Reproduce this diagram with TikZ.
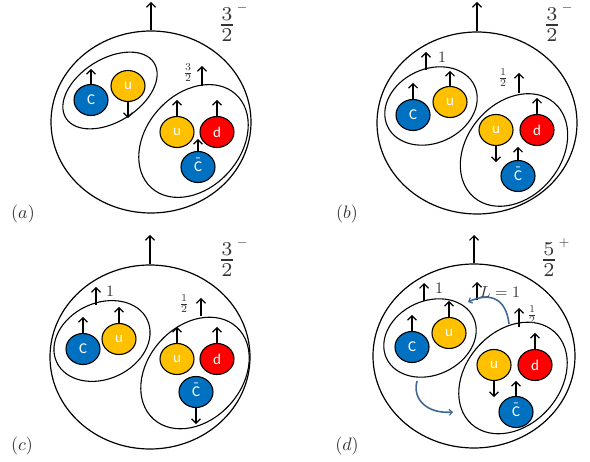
\documentclass[tikz,border=0pt]{standalone}
\usepackage{fontspec}
\newfontfamily\qfont{Carlito}
\usetikzlibrary{shapes.geometric,arrows.meta}
\definecolor{qblue}{RGB}{0,112,192}
\definecolor{qyellow}{RGB}{255,192,0}
\definecolor{qred}{RGB}{255,0,0}
\definecolor{arcblue}{RGB}{65,105,150}
\newcommand{\cbarq}{\ooalign{C\cr\hidewidth\raisebox{0.28em}{\char"00AF}\hidewidth\cr}}
\tikzset{
  outer/.style={draw,ellipse,line width=1.2pt,inner sep=0pt,minimum width=200pt,minimum height=182pt},
  pair/.style={draw,ellipse,line width=1.1pt,inner sep=0pt},
  quark/.style={draw,ellipse,line width=1.1pt,inner sep=0pt,minimum width=34pt,minimum height=31pt,text=white,font=\qfont\fontsize{15}{15}\selectfont},
  qb/.style={quark,fill=qblue},
  qy/.style={quark,fill=qyellow},
  qr/.style={quark,fill=qred},
  spin/.style={line width=1.1pt,-{Straight Barb[length=4.5pt,width=9pt,line width=1.1pt]}},
  lab/.style={text=black!80,scale=1.6,inner sep=0pt},
  plab/.style={text=black!80,scale=1.8,inner sep=0pt},
  bigfrac/.style={text=black!80,scale=2.8,inner sep=0pt},
  sgn/.style={text=black!80,scale=1.35,inner sep=0pt,anchor=base},
  smallfrac/.style={text=black!80,scale=1.5,inner sep=0pt},
  orbit/.style={arcblue,line width=1.6pt,-{Straight Barb[length=3pt,width=6pt,line width=1.2pt]}}
}
\begin{document}
\begin{tikzpicture}[x=1pt,y=-1pt]
\useasboundingbox (0,0) rectangle (590,462);
% ---------------- (a)
\node[outer] (A) at (151,122) {};
\coordinate (At) at (151,2);
\draw[spin] (A.north) -- (At);
\node[bigfrac] (Af) at (227,25) {$\frac{3}{2}$};
\node[sgn] (As) at (242,11.5) {$\smash{-}$};
\node[pair,minimum width=104pt,minimum height=63pt,rotate=32] (AL) at (110,90.5) {};
\node[qb] (Ac) at (91,100) {C};
\node[qy] (Au) at (128,86) {u};
\draw[spin] (Ac.north) -- ++(0,-15);
\draw[spin] (Au.south) -- ++(0,16);
\node[pair,minimum width=126pt,minimum height=94pt,rotate=48] (AR) at (193.5,141) {};
\coordinate (ARt) at (202,86);
\draw[spin] (ARt) -- ++(0,-20);
\node[smallfrac] (ARf) at (188,73) {$\frac{3}{2}$};
\node[qy] (Au2) at (177,132) {u};
\node[qr] (Ad) at (217,132) {d};
\node[qb] (Acb) at (198,167) {\cbarq};
\draw[spin] (Au2.north) -- ++(0,-16);
\draw[spin] (Ad.north) -- ++(0,-16);
\draw[spin] (Acb.north) -- ++(0,-12);
\node[plab] (Alab) at (23,214) {$(a)$};
% ---------------- (b)
\node[outer] (B) at (477,123) {};
\coordinate (Bt) at (477,2);
\draw[spin] (B.north) -- (Bt);
\node[bigfrac] (Bf) at (552,25) {$\frac{3}{2}$};
\node[sgn] (Bs) at (567,11.5) {$\smash{-}$};
\node[pair,minimum width=96pt,minimum height=74pt,rotate=25] (BL) at (431,106) {};
\coordinate (BLt) at (426,70);
\draw[spin] (BLt) -- ++(0,-18);
\node[lab] (BL1) at (442,57) {$1$};
\node[qb] (Bc) at (413,115) {C};
\node[qy] (Bu) at (450,102) {u};
\draw[spin] (Bc.north) -- ++(0,-16);
\draw[spin] (Bu.north) -- ++(0,-15);
\node[pair,minimum width=124pt,minimum height=94pt,rotate=50] (BR) at (514,150) {};
\coordinate (BRt) at (519,93);
\draw[spin] (BRt) -- ++(0,-20);
\node[smallfrac] (BRf) at (503,78) {$\frac{1}{2}$};
\node[qy] (Bu2) at (496,130) {u};
\node[qr] (Bd) at (537,130) {d};
\node[qb] (Bcb) at (518,176) {\cbarq};
\draw[spin] (Bu2.south) -- ++(0,16);
\draw[spin] (Bd.north) -- ++(0,-16);
\draw[spin] (Bcb.north) -- ++(0,-13);
\node[plab] (Blab) at (347,214) {$(b)$};
% ---------------- (c)
\node[outer,minimum height=184pt] (C) at (150,357) {};
\coordinate (Ct) at (150,235);
\draw[spin] (C.north) -- (Ct);
\node[bigfrac] (Cf) at (227,260) {$\frac{3}{2}$};
\node[sgn] (Cs) at (242,246.5) {$\smash{-}$};
\node[pair,minimum width=100pt,minimum height=76pt,rotate=25] (CL) at (102,341) {};
\coordinate (CLt) at (96,305);
\draw[spin] (CLt) -- ++(0,-18);
\node[lab] (CL1) at (110,291) {$1$};
\node[qb] (Cc) at (83,349) {C};
\node[qy] (Cu) at (119,339) {u};
\draw[spin] (Cc.north) -- ++(0,-16);
\draw[spin] (Cu.north) -- ++(0,-16);
\node[pair,minimum width=124pt,minimum height=94pt,rotate=48] (CR) at (195,373) {};
\coordinate (CRt) at (201,316);
\draw[spin] (CRt) -- ++(0,-18);
\node[smallfrac] (CRf) at (184,304) {$\frac{1}{2}$};
\node[qy] (Cu2) at (177,359) {u};
\node[qr] (Cd) at (217,359) {d};
\node[qb] (Ccb) at (196,392) {\cbarq};
\draw[spin] (Cu2.north) -- ++(0,-16);
\draw[spin] (Cd.north) -- ++(0,-16);
\draw[spin] (Ccb.south) -- ++(0,16);
\node[plab] (Clab) at (22,446) {$(c)$};
% ---------------- (d)
\node[outer,minimum width=202pt,minimum height=184pt] (D) at (474,356) {};
\coordinate (Dt) at (474,235);
\draw[spin] (D.north) -- (Dt);
\node[bigfrac] (Df) at (549,260) {$\frac{5}{2}$};
\node[sgn] (Ds) at (564,247) {$\smash{+}$};
\node[pair,minimum width=96pt,minimum height=74pt,rotate=25] (DL) at (430,338) {};
\coordinate (DLt) at (424,301);
\draw[spin] (DLt) -- ++(0,-18);
\node[lab] (DL1) at (439,288) {$1$};
\node[qb] (Dc) at (412,347) {C};
\node[qy] (Du) at (449,333) {u};
\draw[spin] (Dc.north) -- ++(0,-16);
\draw[spin] (Du.north) -- ++(0,-16);
\node[pair,minimum width=124pt,minimum height=94pt,rotate=48] (DR) at (513,378) {};
\coordinate (DRt) at (519,327);
\draw[spin] (DRt) -- ++(0,-19);
\node[smallfrac] (DRf) at (532,315) {$\frac{1}{2}$};
\node[qy] (Du2) at (494,365) {u};
\node[qr] (Dd) at (535,365) {d};
\node[qb] (Dcb) at (516,412) {\cbarq};
\draw[spin] (Du2.south) -- ++(0,16);
\draw[spin] (Dd.north) -- ++(0,-16);
\draw[spin] (Dcb.north) -- ++(0,-15);
\coordinate (DLz) at (477,300);
\draw[spin] (DLz) -- ++(0,-18);
\node[lab] (DLeq) at (500,292) {$L=1$};
\coordinate (o1s) at (509,324);
\coordinate (o1e) at (468,302);
\draw[orbit] (o1s) .. controls (506,298) and (490,292) .. (o1e);
\coordinate (o2s) at (417,381);
\coordinate (o2e) at (453,412);
\draw[orbit] (o2s) .. controls (412,400) and (428,414) .. (o2e);
\node[plab] (Dlab) at (347,446) {$(d)$};
\end{tikzpicture}
\end{document}
